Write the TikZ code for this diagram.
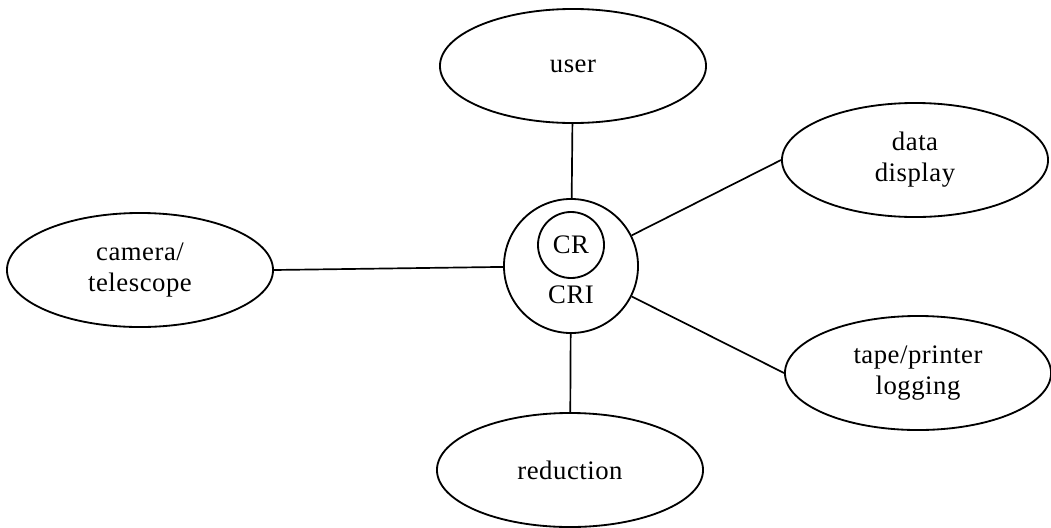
\documentclass[tikz,border=0pt]{standalone}
\usepackage{fontspec}
\setmainfont[LetterSpace=2]{Liberation Serif}
\usetikzlibrary{shapes.geometric}
\begin{document}
\begin{tikzpicture}[x=0.025cm,y=-0.025cm,
  every node/.style={font=\fontsize{19}{22}\selectfont, align=center},
  oval/.style={draw, ellipse, line width=1.3pt, minimum width=6.65cm, minimum height=2.85cm, inner sep=0pt},
  ring/.style={draw, circle, line width=1.3pt, inner sep=0pt},
  link/.style={line width=1.2pt}]
\useasboundingbox (0,0) rectangle (1051,527);
\node[ring, minimum size=3.35cm] (cri) at (571,266) {};
\node[ring, minimum size=1.65cm] (cr) at (571,245) {CR};
\node (crilabel) at (571,295) {CRI};
\node[oval] (user) at (573,66) {user};
\node[oval] (data) at (915,160) {data\\display};
\node[oval] (camera) at (140,270) {camera/\\telescope};
\node[oval] (tape) at (918,373) {tape/printer\\logging};
\node[oval] (reduction) at (570,470) {reduction};
\draw[link] (cri) -- (user);
\draw[link] (cri) -- (data.west);
\draw[link] (cri) -- (camera.east);
\draw[link] (cri) -- (tape.west);
\draw[link] (cri) -- (reduction);
\end{tikzpicture}
\end{document}
